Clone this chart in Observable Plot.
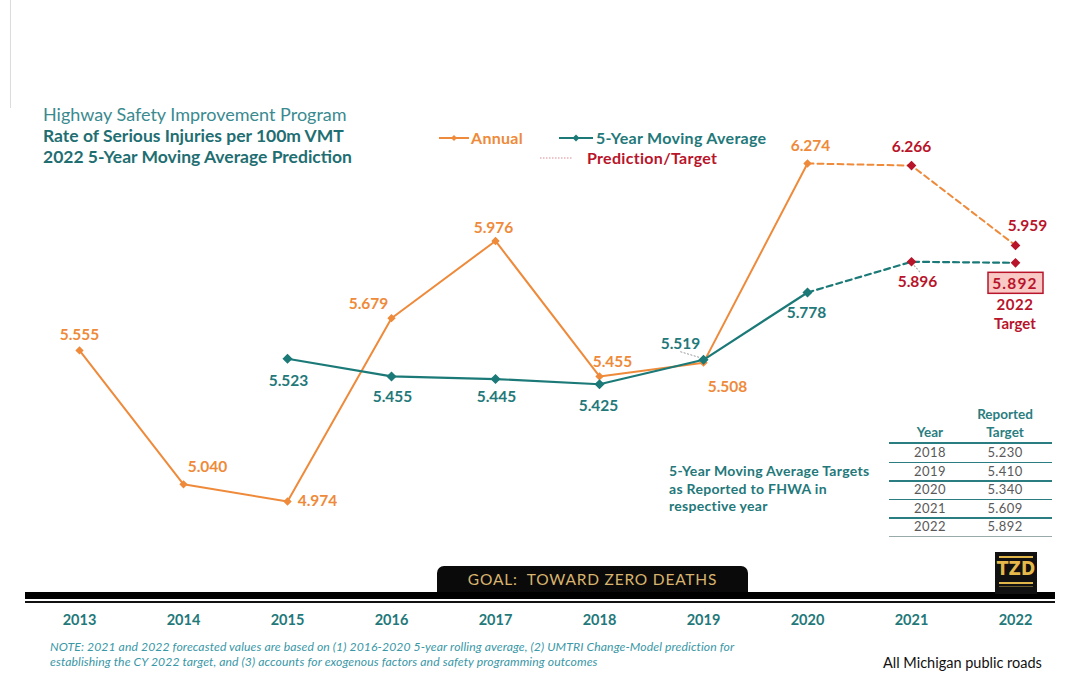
<!DOCTYPE html>
<html>
<head>
<meta charset="utf-8">
<script src="https://cdn.jsdelivr.net/npm/d3@7"></script>
<script src="https://cdn.jsdelivr.net/npm/@observablehq/plot@0.6"></script>
<style>
  html, body { margin: 0; padding: 0; background: #fff; }
  #wrap { position: relative; width: 1068px; height: 689px; overflow: hidden; font-family: Lato, "Open Sans", sans-serif; }
  #wrap svg { position: absolute; left: 0; top: 0; }
  .abs { position: absolute; white-space: nowrap; }
  .title1 { color: #3a8a90; font-size: 18px; }
  .title2 { color: #1f6e72; font-size: 17.5px; font-weight: bold; }
  .leg { font-size: 16px; font-weight: bold; letter-spacing: 0.3px; }
  .tbl { font-size: 13px; text-align: center; transform: translateX(-50%); }
  .tblh { color: #2a7d80; font-weight: bold; font-size: 13.5px; }
  .tblv { color: #595959; letter-spacing: 0.4px; }
</style>
</head>
<body>
<div id="wrap"></div>
<script>
// ---- data ----
const years = [2013, 2014, 2015, 2016, 2017, 2018, 2019, 2020, 2021, 2022];
const annual = [5.555, 5.040, 4.974, 5.679, 5.976, 5.455, 5.508, 6.274, 6.266, 5.959];
const movingAverage = [null, null, 5.523, 5.455, 5.445, 5.425, 5.519, 5.778, 5.896, 5.892];
const lastActualYear = 2020;
const targetYears = [2018, 2019, 2020, 2021, 2022];
const reportedTargets = ["5.230", "5.410", "5.340", "5.609", "5.892"];

const titleLines = ["Highway Safety Improvement Program", "Rate of Serious Injuries per 100m VMT", "2022 5-Year Moving Average Prediction"];
const noteLines = [
  "NOTE:  2021 and 2022 forecasted values are based on (1) 2016-2020 5-year rolling average, (2) UMTRI Change-Model prediction for",
  "establishing the CY 2022 target, and (3) accounts for exogenous factors and safety programming outcomes"
];

// ---- colours ----
const ORANGE = "#ee8a3a", TEAL = "#1b7a78", TEALTXT = "#23787a", RED = "#b8142a";

// ---- tables built from the arrays ----
const annualRows = years.map((year, i) => ({year, value: annual[i], pred: year > lastActualYear}));
const maRows = years.map((year, i) => ({year, value: movingAverage[i], pred: year > lastActualYear})).filter(d => d.value != null);
const annualActual = annualRows.filter(d => d.year <= lastActualYear);
const annualPred = annualRows.filter(d => d.year >= lastActualYear);
const maActual = maRows.filter(d => d.year <= lastActualYear);
const maPred = maRows.filter(d => d.year >= lastActualYear);

// label placement (pixel offsets), keyed by year
const annualOff = {2013:[0,-15],2014:[24,-17],2015:[30,0],2016:[-23,-14],2017:[-2,-13],2018:[13,-14],2019:[24,24],2020:[3,-17],2021:[0,-19],2022:[12,-19]};
const maOff = {2015:[1,22],2016:[1,21],2017:[1,18],2018:[-1,22],2019:[-23,-16],2020:[-1,21],2021:[6,20]};

const fmt = v => v.toFixed(3);
const labelStyle = {fontSize: 15.5, fontWeight: "bold", fontFamily: "Lato, sans-serif", style: "letter-spacing:1.2px"};

function labels(rows, offs, color) {
  return rows.filter(d => offs[d.year]).map(d => Plot.text([d], {
    x: "year", y: "value", text: r => fmt(r.value),
    dx: offs[d.year][0], dy: offs[d.year][1],
    fill: d.pred ? RED : color, ...labelStyle
  }));
}

const plot = Plot.plot({
  width: 1068,
  height: 689,
  marginTop: 0, marginLeft: 0, marginRight: 0, marginBottom: 83,
  style: {background: "transparent", fontFamily: "Lato, sans-serif"},
  x: {type: "linear", domain: [2013, 2022], range: [79, 1015], axis: null},
  y: {type: "linear", domain: [4.974, 6.274], range: [501, 163], axis: null},
  marks: [
    Plot.axisX({ticks: years, tickFormat: d => String(d), tickSize: 0, tickPadding: 8, label: null,
      fill: TEALTXT, fontSize: 14.5, fontWeight: "bold", style: "letter-spacing:1px"}),
    Plot.line(annualActual, {x: "year", y: "value", stroke: ORANGE, strokeWidth: 2}),
    Plot.line(annualPred, {x: "year", y: "value", stroke: ORANGE, strokeWidth: 2, strokeDasharray: "6,4"}),
    Plot.line(maActual, {x: "year", y: "value", stroke: TEAL, strokeWidth: 2.2}),
    Plot.line(maPred, {x: "year", y: "value", stroke: TEAL, strokeWidth: 2.2, strokeDasharray: "6,4"}),
    Plot.dot(annualActual, {x: "year", y: "value", r: 2.8, symbol: "diamond2", fill: ORANGE, stroke: ORANGE}),
    Plot.dot(maActual, {x: "year", y: "value", r: 3.6, symbol: "diamond2", fill: TEAL, stroke: TEAL}),
    Plot.dot(annualPred.filter(d => d.pred), {x: "year", y: "value", r: 3.4, symbol: "diamond2", fill: RED, stroke: RED}),
    Plot.dot(maPred.filter(d => d.pred), {x: "year", y: "value", r: 3.4, symbol: "diamond2", fill: RED, stroke: RED}),
    ...labels(annualRows, annualOff, ORANGE),
    ...labels(maRows, maOff, TEALTXT)
  ]
});

const wrap = document.getElementById("wrap");
wrap.appendChild(plot);

// extra annotation bits positioned through the plot's scales
const sx = plot.scale("x"), sy = plot.scale("y");
const svg = d3.select(plot);
const g = svg.append("g");
// 2022 target box
const target = maRows.find(d => d.year === 2022);
const tx = sx.apply(target.year), ty = sy.apply(target.value);
g.append("rect").attr("x", tx - 27).attr("y", ty + 10).attr("width", 55).attr("height", 21)
  .attr("fill", "#f9c9c6").attr("stroke", RED).attr("stroke-width", 1.5);
g.append("text").attr("x", tx).attr("y", ty + 21).attr("dy", "0.35em").attr("text-anchor", "middle")
  .attr("fill", RED).attr("font-size", 15.5).attr("font-weight", "bold").attr("letter-spacing", "1.2px")
  .text(fmt(target.value));
g.append("text").attr("x", tx).attr("y", ty + 42).attr("dy", "0.35em").attr("text-anchor", "middle")
  .attr("fill", RED).attr("font-size", 15).attr("font-weight", "bold").attr("letter-spacing", "0.5px").text(String(target.year));
g.append("text").attr("x", tx).attr("y", ty + 61).attr("dy", "0.35em").attr("text-anchor", "middle")
  .attr("fill", RED).attr("font-size", 15).attr("font-weight", "bold").text("Target");
// leader lines
const m19 = maRows.find(d => d.year === 2019), m21 = maRows.find(d => d.year === 2021);
g.append("line").attr("x1", sx.apply(m19.year) - 4).attr("y1", sy.apply(m19.value) - 2)
  .attr("x2", sx.apply(m19.year) - 24).attr("y2", sy.apply(m19.value) - 8)
  .attr("stroke", "#9a9a9a").attr("stroke-width", 1).attr("stroke-dasharray", "2,1.5");
g.append("line").attr("x1", sx.apply(m21.year) + 3).attr("y1", sy.apply(m21.value) + 4)
  .attr("x2", sx.apply(m21.year) + 10).attr("y2", sy.apply(m21.value) + 12)
  .attr("stroke", "#b0b0b0").attr("stroke-width", 1.2).attr("stroke-dasharray", "2,1.5");

// ---- HTML overlays ----
function add(html) { wrap.insertAdjacentHTML("beforeend", html); }
add(`<div class="abs" style="left:10px;top:0;width:1px;height:108px;background:#dcdcdc"></div>`);
add(`<div class="abs title1" style="left:43px;top:103px">${titleLines[0]}</div>`);
add(`<div class="abs title2" style="left:43px;top:125px">${titleLines[1]}</div>`);
add(`<div class="abs title2" style="left:43px;top:146px">${titleLines[2]}</div>`);

// legend
add(`<svg class="abs" style="left:437px;top:131px" width="34" height="14"><line x1="2" x2="32" y1="7" y2="7" stroke="${ORANGE}" stroke-width="2"/><path d="M17 4 L20 7 L17 10 L14 7Z" fill="${ORANGE}"/></svg>`);
add(`<div class="abs leg" style="left:471px;top:128px;color:${ORANGE}">Annual</div>`);
add(`<svg class="abs" style="left:557px;top:131px" width="38" height="14"><line x1="2" x2="36" y1="7" y2="7" stroke="${TEAL}" stroke-width="2.2"/><path d="M19 3.5 L22.5 7 L19 10.5 L15.5 7Z" fill="${TEAL}"/></svg>`);
add(`<div class="abs leg" style="left:596px;top:128px;color:${TEALTXT}">5-Year Moving Average</div>`);
add(`<svg class="abs" style="left:538px;top:152px" width="36" height="12"><line x1="2" x2="34" y1="6" y2="6" stroke="#d98a94" stroke-width="1" stroke-dasharray="1.5,1.5"/></svg>`);
add(`<div class="abs leg" style="left:587px;top:148px;color:${RED}">Prediction/Target</div>`);

// table
const c1 = 930, c2 = 1005;
add(`<div class="abs tbl tblh" style="left:${c2}px;top:406px">Reported</div>`);
add(`<div class="abs tbl tblh" style="left:${c2}px;top:424px">Target</div>`);
add(`<div class="abs tbl tblh" style="left:${c1}px;top:424px">Year</div>`);
add(`<div class="abs" style="left:889px;top:442px;width:163px;height:2px;background:#2a7d80"></div>`);
targetYears.forEach((yr, i) => {
  const top = 444 + i * 18.6;
  add(`<div class="abs tbl tblv" style="left:${c1}px;top:${top}px">${yr}</div>`);
  add(`<div class="abs tbl tblv" style="left:${c2}px;top:${top}px">${reportedTargets[i]}</div>`);
  const last = i === targetYears.length - 1;
  add(`<div class="abs" style="left:889px;top:${top + 17.5}px;width:163px;height:${last ? 1 : 1.5}px;background:${last ? "#9aa" : "#2a7d80"}"></div>`);
});
add(`<div class="abs" style="left:669px;top:462px;color:#23787a;font-size:14px;font-weight:bold;line-height:17.5px;letter-spacing:0.3px;white-space:normal;width:230px">5-Year Moving Average Targets<br>as Reported to FHWA in<br>respective year</div>`);

// bottom bar, goal box, logo
add(`<div class="abs" style="left:437px;top:566px;width:311px;height:28px;background:#0a0a0a;border-radius:7px 7px 0 0"></div>`);
add(`<div class="abs" style="left:437px;top:570px;width:311px;text-align:center;color:#d8b46e;font-size:15.5px;letter-spacing:0.8px">GOAL:&nbsp; TOWARD ZERO DEATHS</div>`);
add(`<div class="abs" style="left:25px;top:592px;width:1030px;height:7px;background:#000"></div>`);
add(`<div class="abs" style="left:25px;top:601px;width:1030px;height:2px;background:#111"></div>`);
add(`<div class="abs" style="left:995px;top:552px;width:42px;height:42px;background:#111"></div>`);
add(`<div class="abs" style="left:999px;top:556px;width:34px;height:2px;background:#e0b54a"></div>`);
add(`<div class="abs" style="left:995px;top:557px;width:42px;text-align:center;color:#e6b94a;font-size:19px;font-weight:bold;font-family:'DejaVu Sans Condensed','DejaVu Sans',sans-serif">TZD</div>`);
add(`<div class="abs" style="left:999px;top:582px;width:34px;height:2px;background:#e0b54a"></div>`);
add(`<div class="abs" style="left:999px;top:586px;width:34px;height:1px;background:#6a5a30"></div>`);

// notes
add(`<div class="abs" style="left:50px;top:640px;color:#3a97a6;font-size:12.2px;font-style:italic;line-height:14.5px;letter-spacing:0.1px">${noteLines[0]}<br>${noteLines[1]}</div>`);
add(`<div class="abs" style="left:883px;top:654px;color:#111;font-size:14.5px">All Michigan public roads</div>`);
</script>
</body>
</html>
